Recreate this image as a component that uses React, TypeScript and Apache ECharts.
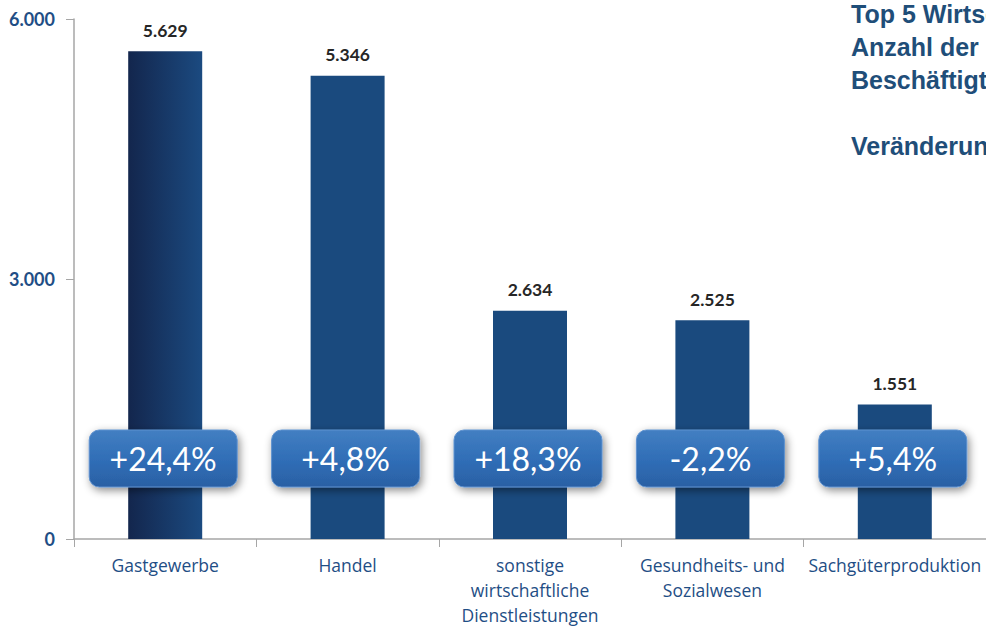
import React, { useEffect, useRef } from "react";
import * as echarts from "echarts";

const categories = [
  "Gastgewerbe",
  "Handel",
  "sonstige\nwirtschaftliche\nDienstleistungen",
  "Gesundheits- und\nSozialwesen",
  "Sachgüterproduktion",
];
const employees = [5629, 5346, 2634, 2525, 1551];
const changes = ["+24,4%", "+4,8%", "+18,3%", "-2,2%", "+5,4%"];
const titleLines = [
  "Top 5 Wirtschaftsbereiche",
  "Anzahl der unselbständig",
  "Beschäftigten",
  "",
  "Veränderung zum Vorjahr",
];

const BADGE_FONT = "32px Lato";

export default function App() {
  const ref = useRef<HTMLDivElement>(null);
  useEffect(() => {
    if (!ref.current) return;
    const chart = echarts.init(ref.current, undefined, { renderer: "svg" });
    const blue = "#1a4a7e";
    const option: any = {
      animation: false,
      backgroundColor: "#ffffff",
      grid: { left: 74, right: -3, top: 19, bottom: 86, containLabel: false },
      title: {
        text: titleLines.join("\n"),
        left: 851,
        top: -3,
        padding: 0,
        textStyle: {
          fontFamily: "Liberation Sans",
          fontWeight: "bold",
          fontSize: 25,
          lineHeight: 33,
          color: "#1f4e79",
        },
      },
      xAxis: {
        type: "category",
        data: categories,
        axisLine: { lineStyle: { color: "#a6a6a6", width: 1.5 } },
        axisTick: { show: true, length: 8, lineStyle: { color: "#a6a6a6" } },
        axisLabel: {
          color: "#1f4e85",
          fontFamily: "Open Sans",
          fontSize: 17.5,
          lineHeight: 25,
          margin: 13,
          interval: 0,
        },
      },
      yAxis: {
        type: "value",
        min: 0,
        max: 6000,
        interval: 3000,
        splitLine: { show: false },
        axisLine: { show: true, lineStyle: { color: "#a6a6a6", width: 1.5 } },
        axisTick: { show: true, length: 8, lineStyle: { color: "#a6a6a6" } },
        axisLabel: {
          color: "#1f4e85",
          fontFamily: "Lato",
          fontWeight: "bold",
          fontSize: 18,
          margin: 19,
          formatter: (v: number) => (v === 0 ? "0" : v.toLocaleString("de-DE")),
        },
      },
      series: [
        {
          type: "bar",
          barWidth: 74,
          data: employees.map((v, i) =>
            i === 0
              ? {
                  value: v,
                  itemStyle: {
                    color: new echarts.graphic.LinearGradient(0, 0, 1, 0, [
                      { offset: 0, color: "#13264d" },
                      { offset: 1, color: "#1b4a80" },
                    ]),
                  },
                }
              : v
          ),
          itemStyle: { color: blue },
          label: {
            show: true,
            position: "top",
            distance: 12,
            color: "#262626",
            fontFamily: "Lato",
            fontWeight: "bold",
            fontSize: 17.5,
            formatter: (p: any) => Number(p.value).toLocaleString("de-DE"),
          },
          z: 2,
        },
        {
          type: "custom",
          z: 5,
          data: changes.map((_, i) => [i, 0]),
          encode: { x: 0, y: 1 },
          renderItem: (params: any, api: any) => {
            const idx = api.value(0);
            const pt = api.coord([idx, 0]);
            const text = changes[idx];
            const w = 148;
            const h = 57;
            const top = pt[1] - 109;
            const cx = pt[0] - 2;
            return {
              type: "group",
              children: [
                {
                  type: "rect",
                  shape: { x: cx - w / 2, y: top, width: w, height: h, r: 10 },
                  style: {
                    fill: new echarts.graphic.LinearGradient(0, 0, 0, 1, [
                      { offset: 0, color: "#437fc2" },
                      { offset: 0.55, color: "#2f6db6" },
                      { offset: 1, color: "#2b60a4" },
                    ]),
                    stroke: "#5f92cf",
                    lineWidth: 1,
                    shadowBlur: 8,
                    shadowOffsetY: 3,
                    shadowOffsetX: 2,
                    shadowColor: "rgba(0,0,0,0.45)",
                  },
                },
                {
                  type: "text",
                  style: {
                    text,
                    x: cx,
                    y: top + h / 2,
                    align: "center",
                    verticalAlign: "middle",
                    fill: "#ffffff",
                    font: BADGE_FONT,
                  },
                },
              ],
            };
          },
        },
      ],
    };
    chart.setOption(option);
    return () => chart.dispose();
  }, []);
  return <div ref={ref} style={{ width: 986, height: 627, position: "absolute", left: 0, top: 0 }} />;
}
